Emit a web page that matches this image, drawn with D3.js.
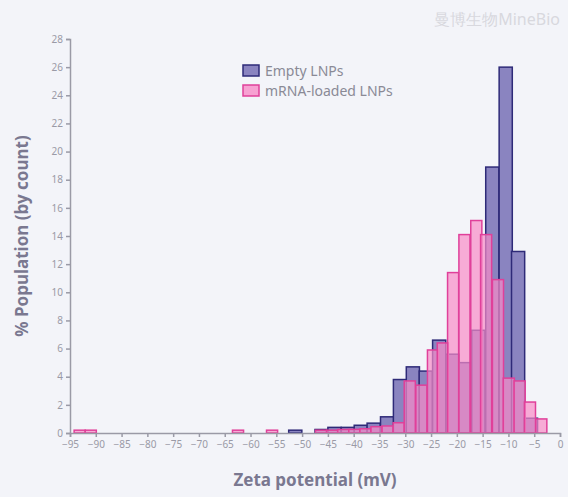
<!DOCTYPE html>
<html><head><meta charset="utf-8">
<script src="https://cdn.jsdelivr.net/npm/d3@7"></script>
<style>body{margin:0;background:#f3f4f9;}text{font-family:"Noto Sans",sans-serif;}</style>
</head><body><svg id="c" width="568" height="497"></svg>
<script>
const emptyStarts=[-52.6,-47.5,-45,-42.4,-39.9,-37.4,-34.8,-32.3,-29.8,-27.3,-24.7,-22.1,-19.6,-17.1,-14.4,-11.8,-9.4,-6.9];
const emptyValues=[0.2,0.25,0.4,0.4,0.55,0.7,1.15,3.8,4.7,4.4,6.6,5.6,5.0,7.3,18.9,26,12.9,1.05];
const emptyWidth=2.55;
const mrnaStarts=[-94.2,-92.05,-63.5,-56.9,-47.4,-45.25,-43.1,-40.95,-38.8,-36.65,-34.5,-32.35,-30.2,-27.95,-25.7,-23.8,-21.8,-19.6,-17.3,-15.4,-13.1,-11.0,-8.9,-6.9,-4.7];
const mrnaValues=[0.2,0.2,0.2,0.2,0.2,0.2,0.25,0.26,0.3,0.45,0.5,0.73,3.7,3.4,5.9,6.4,11.4,14.1,15.1,14.1,10.9,3.9,3.7,2.2,1.0];
const mrnaWidth=2.15;
const xTicks=d3.range(-95,1,5);
const yTicks=d3.range(0,29,2);

const svg=d3.select("#c");
const x=d3.scaleLinear().domain([-95,0]).range([70,560]);
const y=d3.scaleLinear().domain([0,28]).range([433,39]);

svg.append("text").attr("x",560).attr("y",25).attr("text-anchor","end").attr("fill","#d8d8de").attr("font-size",16).text("曼博生物MineBio");

const g=svg.append("g");
g.selectAll(".e").data(emptyStarts).join("rect")
 .attr("x",d=>x(d)).attr("width",x(emptyWidth)-x(0))
 .attr("y",(d,i)=>y(emptyValues[i])).attr("height",(d,i)=>y(0)-y(emptyValues[i]))
 .attr("fill","#8a84c0").attr("stroke","#2e2a78").attr("stroke-width",1.5);
g.selectAll(".m").data(mrnaStarts).join("rect")
 .attr("x",d=>x(d)).attr("width",x(mrnaWidth)-x(0))
 .attr("y",(d,i)=>y(mrnaValues[i])).attr("height",(d,i)=>y(0)-y(mrnaValues[i]))
 .attr("fill","rgba(248,140,200,0.7)").attr("stroke","#e0409a").attr("stroke-width",1.5);

const xa=svg.append("g").attr("transform","translate(0,433)")
 .call(d3.axisBottom(x).tickValues(xTicks).tickSize(4).tickPadding(4));
const ya=svg.append("g").attr("transform","translate(70,0)")
 .call(d3.axisLeft(y).tickValues(yTicks).tickSize(4).tickPadding(3));
[xa,ya].forEach(a=>{a.selectAll("path,line").attr("stroke","#9a9aa6").attr("stroke-width",1.5);
 a.selectAll("text").attr("fill","#9a9aa6").attr("font-size",10);});

svg.append("text").attr("x",315).attr("y",486).attr("text-anchor","middle").attr("fill","#7a7890").attr("font-size",17).attr("font-weight","bold").text("Zeta potential (mV)");
svg.append("text").attr("transform","translate(28,236) rotate(-90)").attr("text-anchor","middle").attr("fill","#7a7890").attr("font-size",17).attr("font-weight","bold").text("% Population (by count)");

const leg=[["Empty LNPs","#8a84c0","#2e2a78"],["mRNA-loaded LNPs","rgba(248,140,200,0.8)","#e0409a"]];
leg.forEach((l,i)=>{
 svg.append("rect").attr("x",243).attr("y",65+i*20).attr("width",16).attr("height",11).attr("fill",l[1]).attr("stroke",l[2]).attr("stroke-width",1.5);
 svg.append("text").attr("x",265).attr("y",76+i*20).attr("fill","#8a8a96").attr("font-size",14).text(l[0]);
});
</script></body></html>
